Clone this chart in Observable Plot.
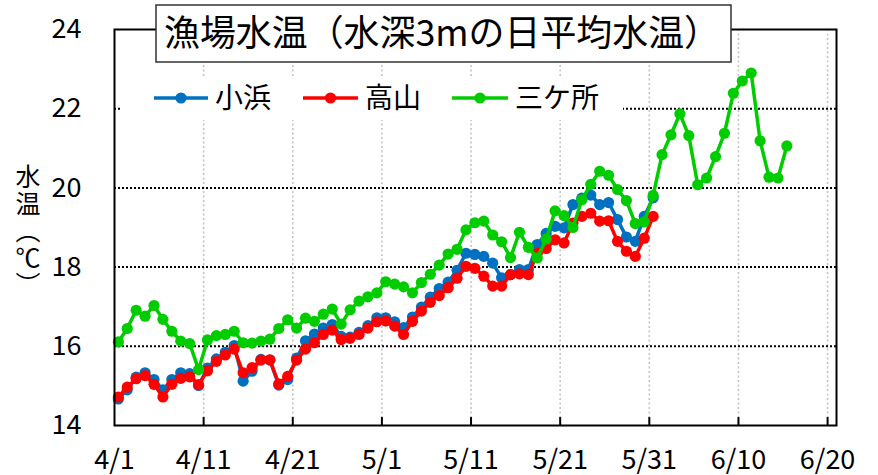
<!DOCTYPE html>
<html>
<head>
<meta charset="utf-8">
<script src="https://cdn.jsdelivr.net/npm/d3@7"></script>
<script src="https://cdn.jsdelivr.net/npm/@observablehq/plot@0.6"></script>
<style>
  html, body { margin: 0; padding: 0; background: #fff; }
  #chart { width: 878px; height: 475px; }
</style>
</head>
<body>
<div id="chart"></div>
<script>
// ---- data (daily mean water temperature at 3 m depth, from 4/1) ----
const seriesNames = ["小浜", "高山", "三ケ所"];
const seriesColors = ["#0070C0", "#FF0000", "#00CC00"];

const obama = [14.67, 14.90, 15.22, 15.33, 15.16, 14.90, 15.16, 15.33, 15.31, 15.01,
  15.45, 15.68, 15.85, 16.02, 15.12, 15.37, 15.67, 15.65, 15.02, 15.16,
  15.70, 16.14, 16.31, 16.46, 16.55, 16.25, 16.23, 16.35, 16.52, 16.72,
  16.72, 16.62, 16.47, 16.74, 16.99, 17.24, 17.46, 17.62, 17.92, 18.35,
  18.32, 18.27, 18.10, 17.73, 17.81, 17.94, 17.94, 18.57, 18.85, 19.03,
  18.99, 19.58, 19.74, 19.82, 19.58, 19.63, 19.20, 18.76, 18.65, 19.28,
  19.75];

const takayama = [14.72, 14.97, 15.18, 15.26, 15.04, 14.72, 15.04, 15.19, 15.23, 15.03,
  15.38, 15.62, 15.78, 15.93, 15.33, 15.46, 15.65, 15.66, 15.05, 15.24,
  15.65, 15.93, 16.09, 16.30, 16.41, 16.17, 16.20, 16.30, 16.46, 16.62,
  16.64, 16.51, 16.30, 16.63, 16.89, 17.11, 17.28, 17.48, 17.72, 18.02,
  17.97, 17.77, 17.52, 17.52, 17.81, 17.83, 17.81, 18.35, 18.47, 18.69,
  18.61, 19.11, 19.28, 19.36, 19.16, 19.17, 18.65, 18.40, 18.27, 18.73,
  19.28];

const sangasho = [16.11, 16.45, 16.91, 16.76, 17.03, 16.68, 16.38, 16.13, 16.07, 15.41,
  16.16, 16.27, 16.30, 16.38, 16.09, 16.08, 16.13, 16.18, 16.45, 16.67,
  16.46, 16.71, 16.63, 16.81, 16.94, 16.56, 16.92, 17.14, 17.25, 17.35,
  17.63, 17.57, 17.50, 17.35, 17.61, 17.82, 18.05, 18.33, 18.45, 18.94,
  19.12, 19.16, 18.81, 18.64, 18.24, 18.88, 18.50, 18.23, 18.71, 19.42,
  19.30, 19.00, 19.70, 20.09, 20.42, 20.32, 19.96, 19.68, 19.10, 19.14,
  19.81, 20.84, 21.34, 21.87, 21.32, 20.08, 20.25, 20.79, 21.38, 22.39,
  22.70, 22.90, 21.19, 20.27, 20.25, 21.06];

const tickDays = [0, 10, 20, 30, 40, 50, 60, 70, 80];
const tickLabels = ["4/1", "4/11", "4/21", "5/1", "5/11", "5/21", "5/31", "6/10", "6/20"];
const yTicks = [14, 16, 18, 20, 22, 24];
const yGrid = [16, 18, 20, 22];
const xDomain = [0, 81];
const yDomain = [14, 24];
const dayOffset = 0.43; // daily means drawn slightly right of the date tick

const titleText = "漁場水温（水深3mの日平均水温）";
const yLabelText = "水温（℃）";

// ---- build table ----
const allSeries = [obama, takayama, sangasho];
const rows = [];
allSeries.forEach((arr, s) => arr.forEach((v, i) => rows.push({day: i + dayOffset, v, s: seriesNames[s]})));

const font = "'Noto Sans CJK JP', 'Liberation Sans', sans-serif";

const marks = [
  Plot.ruleX(tickDays.slice(1), {stroke: "#c4c4c4", strokeWidth: 1.6, strokeDasharray: "2,2.5"}),
  Plot.ruleY(yGrid, {stroke: "#000", strokeWidth: 2, strokeDasharray: "2,2"})
];
seriesNames.forEach((name, s) => {
  const d = rows.filter(r => r.s === name);
  marks.push(Plot.line(d, {x: "day", y: "v", stroke: seriesColors[s], strokeWidth: 3.5}));
  marks.push(Plot.dot(d, {x: "day", y: "v", fill: seriesColors[s], r: 5.6, stroke: "none"}));
});
marks.push(
  Plot.ruleX(tickDays.slice(1), {y1: yDomain[0], y2: yDomain[0] + 0.2, stroke: "#000", strokeWidth: 2}),
  Plot.frame({stroke: "#000", strokeWidth: 2}),
  Plot.axisX({ticks: tickDays, tickFormat: d => tickLabels[tickDays.indexOf(d)], tickSize: 0, tickPadding: 24, fontSize: 27, label: null}),
  Plot.axisY({ticks: yTicks, tickSize: 0, tickPadding: 33, fontSize: 27, label: null})
);

const svg = Plot.plot({
  width: 878,
  height: 475,
  marginLeft: 114,
  marginRight: 42,
  marginTop: 29,
  marginBottom: 50,
  style: {fontFamily: font, color: "#000", background: "#fff", overflow: "visible"},
  x: {domain: xDomain},
  y: {domain: yDomain},
  marks
});
document.getElementById("chart").appendChild(svg);

// ---- overlays: title box, legend, vertical y label ----
const g = d3.select(svg).append("g").attr("font-family", font).attr("text-anchor", "start");

// legend background & items
g.append("rect").attr("x", 121).attr("y", 76).attr("width", 502).attr("height", 44).attr("fill", "#fff");
const legendX = [154, 303, 452];
const legendW = [54, 55, 56];
seriesNames.forEach((name, s) => {
  const x0 = legendX[s], yy = 98;
  g.append("line").attr("x1", x0).attr("x2", x0 + legendW[s]).attr("y1", yy).attr("y2", yy)
    .attr("stroke", seriesColors[s]).attr("stroke-width", 3.5);
  g.append("circle").attr("cx", x0 + legendW[s] / 2).attr("cy", yy).attr("r", 5.6).attr("fill", seriesColors[s]);
  g.append("text").attr("x", x0 + legendW[s] + 7).attr("y", yy).attr("dy", "0.36em")
    .attr("text-anchor", "start").attr("font-size", 28).attr("fill", "#000").text(name);
});

// title box
g.append("rect").attr("x", 156).attr("y", 5).attr("width", 575).attr("height", 57)
  .attr("fill", "#fff").attr("stroke", "#333").attr("stroke-width", 1.5);
g.append("text").attr("x", 164).attr("y", 33).attr("dy", "0.36em")
  .attr("text-anchor", "start").attr("font-size", 36).attr("fill", "#000")
  .attr("textLength", 556).attr("lengthAdjust", "spacingAndGlyphs")
  .text(titleText);

// vertical axis title (vertical writing)
g.append("text").attr("x", 28).attr("y", 164)
  .attr("text-anchor", "start")
  .style("writing-mode", "vertical-rl").style("glyph-orientation-vertical", "0")
  .attr("font-size", 25).attr("letter-spacing", 2).attr("fill", "#000")
  .text(yLabelText);
</script>
</body>
</html>
